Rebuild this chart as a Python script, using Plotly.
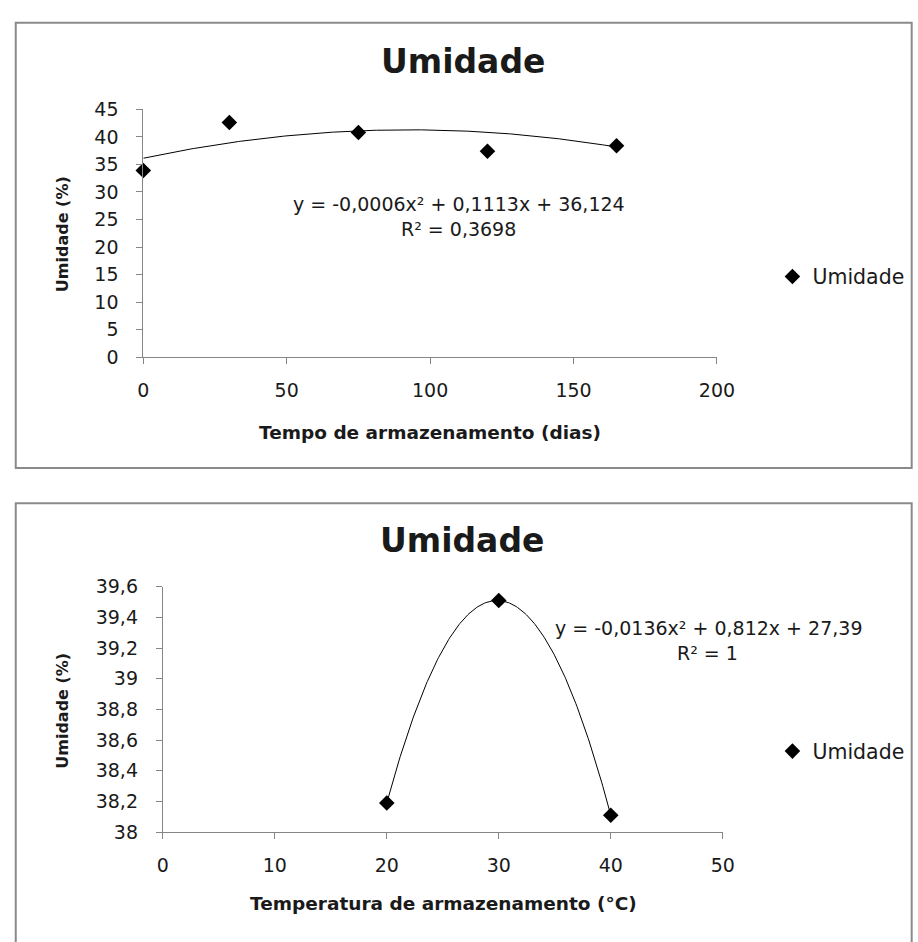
import numpy as np
import plotly.graph_objects as go

# ---------------- data ----------------
# Chart 1: moisture vs storage time
tempo_dias = [0, 30, 75, 120, 165]
umidade_tempo = [33.9, 42.6, 40.8, 37.4, 38.4]
coef_tempo = [-0.0006, 0.1113, 36.124]          # displayed trendline coefficients
eq_tempo = "y = -0,0006x² + 0,1113x + 36,124"
r2_tempo = "R² = 0,3698"

# Chart 2: moisture vs storage temperature
temperatura_c = [20, 30, 40]
umidade_temp = [38.19, 39.51, 38.11]
coef_temp = [-0.0136, 0.812, 27.39]
eq_temp = "y = -0,0136x² + 0,812x + 27,39"
r2_temp = "R² = 1"

# tick values / labels
x1_ticks = [0, 50, 100, 150, 200]
x1_labels = ["0", "50", "100", "150", "200"]
y1_ticks = [0, 5, 10, 15, 20, 25, 30, 35, 40, 45]
y1_labels = ["0", "5", "10", "15", "20", "25", "30", "35", "40", "45"]
x2_ticks = [0, 10, 20, 30, 40, 50]
x2_labels = ["0", "10", "20", "30", "40", "50"]
y2_ticks = [38.0, 38.2, 38.4, 38.6, 38.8, 39.0, 39.2, 39.4, 39.6]
y2_labels = ["38", "38,2", "38,4", "38,6", "38,8", "39", "39,2", "39,4", "39,6"]

# ---------------- layout helpers ----------------
W, H = 918, 942
def px(x):
    return x / W
def py(y):
    return 1 - y / H

FONT = "DejaVu Sans"
TXT = "#1a1a1a"
AX = "#868686"

# trendline curves computed from the displayed polynomial coefficients
t_curve = np.linspace(min(tempo_dias), max(tempo_dias), 200)
u_curve1 = np.polyval(coef_tempo, t_curve)
c_curve = np.linspace(min(temperatura_c), max(temperatura_c), 200)
u_curve2 = np.polyval(coef_temp, c_curve)

fig = go.Figure()

fig.add_trace(go.Scatter(x=t_curve, y=u_curve1, mode="lines",
                         line=dict(color="black", width=1),
                         showlegend=False, hoverinfo="skip",
                         xaxis="x", yaxis="y", cliponaxis=False))
fig.add_trace(go.Scatter(x=tempo_dias, y=umidade_tempo, mode="markers",
                         name="Umidade",
                         marker=dict(symbol="diamond", size=12, color="black"),
                         xaxis="x", yaxis="y", cliponaxis=False,
                         legend="legend"))

fig.add_trace(go.Scatter(x=c_curve, y=u_curve2, mode="lines",
                         line=dict(color="black", width=1),
                         showlegend=False, hoverinfo="skip",
                         xaxis="x2", yaxis="y2", cliponaxis=False))
fig.add_trace(go.Scatter(x=temperatura_c, y=umidade_temp, mode="markers",
                         name="Umidade",
                         marker=dict(symbol="diamond", size=12, color="black"),
                         xaxis="x2", yaxis="y2", cliponaxis=False,
                         legend="legend2"))

axis_common = dict(showline=True, linecolor=AX, linewidth=1,
                   ticks="outside", ticklen=6, tickcolor=AX, tickwidth=1,
                   showgrid=False, zeroline=False,
                   tickfont=dict(family=FONT, size=19, color=TXT))

fig.update_layout(
    width=W, height=H,
    margin=dict(l=0, r=0, t=0, b=0),
    paper_bgcolor="white", plot_bgcolor="white",
    xaxis=dict(domain=[px(141), px(730)], range=[0, 200], anchor="y",
               tickvals=x1_ticks, ticktext=x1_labels, ticklabelstandoff=10,
               **axis_common),
    yaxis=dict(domain=[py(354.5), py(100.7)], range=[0, 45], anchor="x",
               tickvals=y1_ticks, ticktext=y1_labels, ticklabelstandoff=14,
               **axis_common),
    xaxis2=dict(domain=[px(161), px(736)], range=[0, 50], anchor="y2",
                tickvals=x2_ticks, ticktext=x2_labels, ticklabelstandoff=10,
                **axis_common),
    yaxis2=dict(domain=[py(840.7), py(589.5)], range=[38, 39.6], anchor="x2",
                tickvals=y2_ticks, ticktext=y2_labels, ticklabelstandoff=14,
                **axis_common),
    legend=dict(x=px(787), y=py(272), xanchor="left", yanchor="middle",
                bgcolor="rgba(0,0,0,0)", borderwidth=0,
                font=dict(family=FONT, size=20.5, color=TXT)),
    legend2=dict(x=px(787), y=py(758), xanchor="left", yanchor="middle",
                 bgcolor="rgba(0,0,0,0)", borderwidth=0,
                 font=dict(family=FONT, size=20.5, color=TXT)),
)

# chart frames
frame = dict(type="rect", xref="paper", yref="paper",
             line=dict(color="#8a8a8a", width=2), fillcolor="rgba(0,0,0,0)", layer="below")
fig.add_shape(x0=px(10), x1=px(930), y0=py(12), y1=py(468), **frame)
fig.add_shape(x0=px(10), x1=px(930), y0=py(504), y1=py(960), **frame)

def ann(text, x, y, size, bold=False, angle=0):
    fig.add_annotation(text=f"<b>{text}</b>" if bold else text,
                       x=px(x), y=py(y), xref="paper", yref="paper",
                       xanchor="center", yanchor="middle", showarrow=False,
                       textangle=angle,
                       font=dict(family=FONT, size=size, color=TXT))

# titles
ann("Umidade", 469, 52, 33, bold=True)
ann("Umidade", 468, 542, 33, bold=True)
# axis titles
ann("Tempo de armazenamento (dias)", 435, 432, 18.5, bold=True)
ann("Umidade (%)", 58, 228, 16, bold=True, angle=-90)
ann("Temperatura de armazenamento (°C)", 449, 914, 18.5, bold=True)
ann("Umidade (%)", 58, 716, 16, bold=True, angle=-90)
# trendline equations
ann(eq_tempo, 465, 198, 19)
ann(r2_tempo, 465, 223, 19)
ann(eq_temp, 721, 632, 19)
ann(r2_temp, 720, 657, 19)

fig.write_html("out.html")
